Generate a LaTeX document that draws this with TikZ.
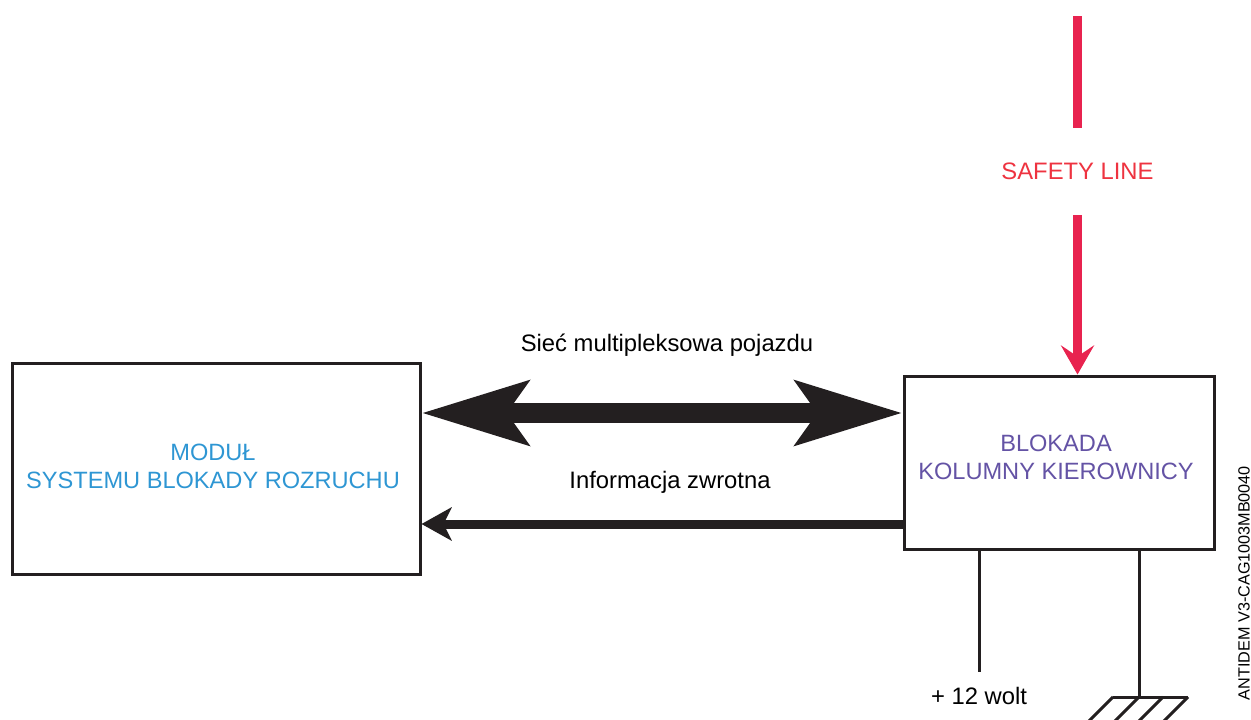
\documentclass[tikz,border=0pt]{standalone}
\usepackage{fontspec}
\setmainfont{Liberation Sans}
\usetikzlibrary{arrows.meta}

\definecolor{modblue}{HTML}{2E96D3}
\definecolor{lockviolet}{HTML}{6453A5}
\definecolor{safetext}{HTML}{EE3340}
\definecolor{safeline}{HTML}{E8234F}
\definecolor{wire}{HTML}{231F20}

\tikzset{
  unitbox/.style={draw=wire, line width=3pt, rectangle, inner sep=0pt},
  unittext/.style={align=center, font=\fontsize{23.6}{28}\selectfont, inner sep=0pt},
  lbl/.style={font=\fontsize{23.8}{28}\selectfont, inner sep=0pt},
  busarrow/.style={draw=wire, line width=20pt,
    {Stealth[length=106pt, width=63pt, inset=21pt]}-{Stealth[length=106pt, width=63pt, inset=21pt]}},
  backarrow/.style={draw=wire, line width=9pt,
    -{Stealth[length=30pt, width=33pt, inset=8pt]}},
  safety/.style={draw=safeline, line width=9pt},
  safetytip/.style={safety, -{Stealth[length=29pt, width=33pt, inset=11pt]}},
  lead/.style={draw=wire, line width=3pt},
  hatch/.style={draw=wire, line width=3pt}
}

\begin{document}
\begin{tikzpicture}[x=1pt, y=-1pt]
  \useasboundingbox (0,0) rectangle (1251,720);

  % control units
  \node[unitbox, minimum width=408pt, minimum height=211pt] (modul) at (216,468.5) {};
  \node[unittext, text=modblue] (modultext) at (213,466) {MODUŁ\\SYSTEMU BLOKADY ROZRUCHU};
  \node[unitbox, minimum width=310pt, minimum height=173pt] (blok) at (1059,462.5) {};
  \node[unittext, text=lockviolet] (bloktext) at (1056,457) {BLOKADA\\KOLUMNY KIEROWNICY};

  % multiplex network (both directions)
  \coordinate (busy) at (0,413);
  \draw[busarrow] (modul.east |- busy) -- (blok.west |- busy);
  \node[lbl] (bus) at (667,345) {Sieć multipleksowa pojazdu};

  % feedback line
  \coordinate (backy) at (0,524);
  \draw[backarrow] (blok.west |- backy) -- (modul.east |- backy);
  \node[lbl] (back) at (670,482) {Informacja zwrotna};

  % safety line feeding the steering lock
  \node[lbl, text=safetext, minimum height=87pt] (safe) at (1077.5,171.5) {SAFETY LINE};
  \coordinate (safetop) at (1077.5,16);
  \draw[safety] (safetop) -- (safe.north);
  \draw[safetytip] (safe.south) -- (blok.north -| safe.south);

  % +12 V supply
  \node[lbl, anchor=base] (plus) at (979,704) {+ 12 wolt};
  \coordinate (plusend) at (979,672);
  \draw[lead] (blok.south -| plusend) -- (plusend);

  % ground
  \coordinate (gnd) at (1139,697);
  \draw[lead] (blok.south -| gnd) -- (gnd);
  \draw[hatch] (1113,697) -- (1188,697);
  \foreach \gx in {1113,1139,1163,1188}
    \draw[hatch] (\gx,697) -- ++(-25,25);

  % drawing reference
  \node[font=\fontsize{16.2}{18}\selectfont, rotate=90, inner sep=0pt]
    (ref) at (1244,583) {ANTIDEM V3-CAG1003MB0040};
\end{tikzpicture}
\end{document}
